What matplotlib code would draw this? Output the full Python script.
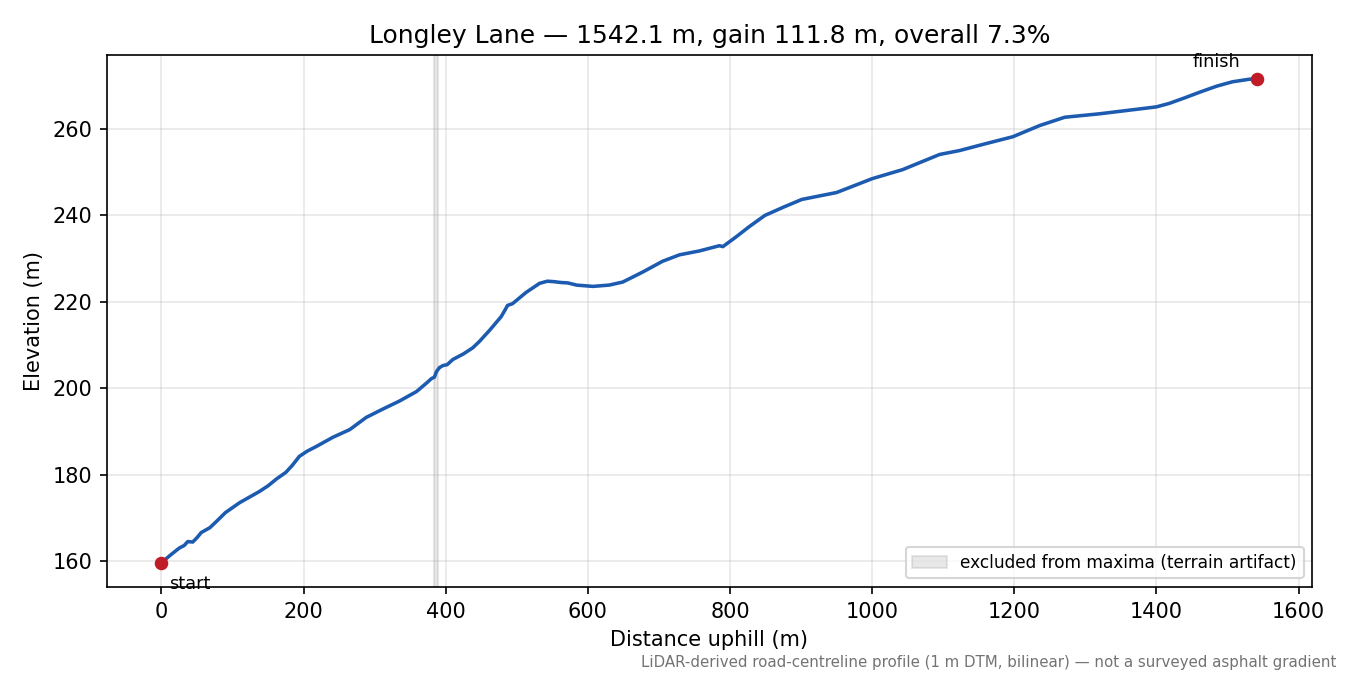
import matplotlib
matplotlib.use("Agg")
import matplotlib.pyplot as plt

# profile (distance m, elevation m)
dist = [0, 12, 25, 32, 37, 44, 50, 56, 68, 77, 90, 110, 138, 150, 162, 175, 184, 194,
        205, 218, 241, 265, 288, 311, 335, 359, 374, 380, 384, 387, 391, 396, 402, 410,
        425, 438, 447, 462, 478, 484, 487, 494, 513, 532, 543, 552, 562, 572, 584, 607,
        630, 649, 677, 705, 729, 757, 785, 790, 809, 827, 849, 875, 901, 950, 1000, 1043,
        1095, 1123, 1160, 1198, 1236, 1271, 1320, 1400, 1418, 1440, 1461, 1485, 1507, 1531, 1542.1]
elev = [159.6, 161.3, 163.0, 163.6, 164.5, 164.4, 165.4, 166.6, 167.7, 169.1, 171.2, 173.5,
        176.1, 177.4, 179.0, 180.5, 182.1, 184.2, 185.4, 186.5, 188.6, 190.4, 193.2, 195.1,
        197.0, 199.2, 201.3, 202.2, 202.5, 203.8, 204.7, 205.2, 205.4, 206.6, 207.9, 209.3,
        210.7, 213.4, 216.5, 218.2, 219.1, 219.5, 222.1, 224.2, 224.7, 224.6, 224.4, 224.3,
        223.8, 223.5, 223.8, 224.5, 226.8, 229.3, 230.8, 231.7, 232.9, 232.7, 235.0, 237.3,
        239.9, 241.8, 243.6, 245.2, 248.4, 250.5, 254.0, 254.9, 256.5, 258.1, 260.7, 262.6,
        263.4, 265.0, 265.8, 267.1, 268.4, 269.8, 270.8, 271.4, 271.4]

excluded = (383, 389)
title = "Longley Lane \u2014 1542.1 m, gain 111.8 m, overall 7.3%"
note = "LiDAR-derived road-centreline profile (1 m DTM, bilinear) \u2014 not a surveyed asphalt gradient"

fig, ax = plt.subplots(figsize=(9, 4.5), dpi=150)
fig.subplots_adjust(left=0.079, right=0.972, top=0.9185, bottom=0.1304)

ax.axvspan(excluded[0], excluded[1], color="0.55", alpha=0.2,
           label="excluded from maxima (terrain artifact)")
ax.plot(dist, elev, color="#1c5bb0", lw=1.7)
ax.plot([dist[0], dist[-1]], [elev[0], elev[-1]], "o", color="#c01c28", ms=5.5, zorder=5)
ax.annotate("start", (dist[0], elev[0]), xytext=(3.6, -12.5), textcoords="offset points", fontsize=8.5)
ax.annotate("finish", (dist[-1], elev[-1]), xytext=(-8, 6), textcoords="offset points",
            fontsize=8.5, ha="right")

ax.set_title(title, fontsize=12)
ax.set_xlabel("Distance uphill (m)", fontsize=10)
ax.set_ylabel("Elevation (m)", fontsize=10)
ax.grid(True, alpha=0.3)
ax.legend(loc="lower right", fontsize=8.2)
fig.text(0.99, 0.012, note, ha="right", fontsize=7.2, color="0.45")

fig.savefig("out.png")
